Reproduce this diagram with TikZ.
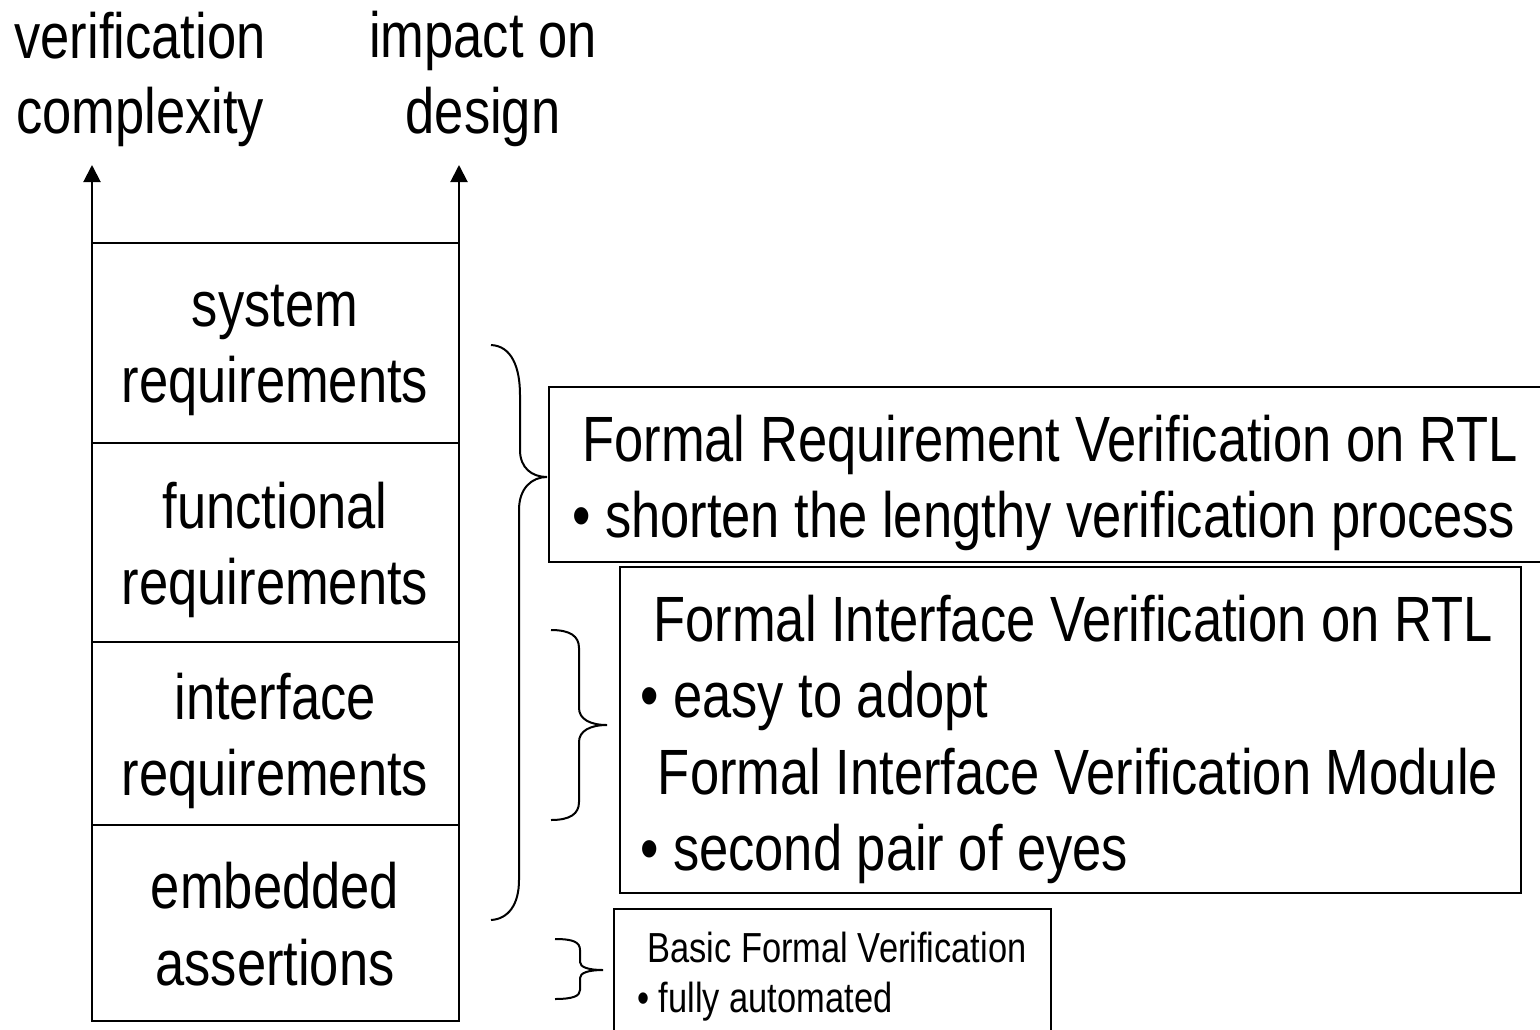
\documentclass[tikz,border=0pt]{standalone}
\usepackage{fontspec}
\setmainfont{Liberation Sans}[FakeStretch=0.82]
\usetikzlibrary{arrows.meta}
\tikzset{
  big/.style={font=\fontsize{64}{77}\selectfont, inner sep=0pt},
  small/.style={font=\fontsize{42}{50}\selectfont, inner sep=0pt},
  frame/.style={draw, line width=2pt, inner sep=0pt, outer sep=0pt, anchor=north west},
  bracepath/.style={line width=2pt},
  axis/.style={line width=2pt, -{Triangle[width=17pt,length=17pt]}},
}
\begin{document}
\begin{tikzpicture}[x=1pt,y=-1pt]
\useasboundingbox (0,0) rectangle (1540,1029);
\fill[white] (0,0) rectangle (1540,1029);
\clip (0,0) rectangle (1540,1029);

% left stack
\node[frame, minimum width=367pt, minimum height=200pt] (s1) at (92,243) {};
\node[frame, minimum width=367pt, minimum height=199pt] (s2) at (92,443) {};
\node[frame, minimum width=367pt, minimum height=183pt] (s3) at (92,642) {};
\node[frame, minimum width=367pt, minimum height=196pt] (s4) at (92,825) {};

% axes
\coordinate (vtop) at (92,165);
\coordinate (itop) at (459,165);
\draw[axis] (s1.north west) -- (vtop);
\draw[axis] (s1.north east) -- (itop);

% axis labels
\node[big, anchor=base] (vc1) at (140,58) {verification};
\node[big, anchor=base] (vc2) at (140,133) {complexity};
\node[big, anchor=base] (id1) at (483,57) {impact on};
\node[big, anchor=base] (id2) at (483,133) {design};

% stack texts
\node[big, anchor=base] (t1a) at (275,326) {system};
\node[big, anchor=base] (t1b) at (275,402) {requirements};
\node[big, anchor=base] (t2a) at (275,528) {functional};
\node[big, anchor=base] (t2b) at (275,604) {requirements};
\node[big, anchor=base] (t3a) at (275,719) {interface};
\node[big, anchor=base] (t3b) at (275,795) {requirements};
\node[big, anchor=base] (t4a) at (275,908) {embedded};
\node[big, anchor=base] (t4b) at (275,985) {assertions};

% right boxes
\node[frame, minimum width=996pt, minimum height=175pt] (b1) at (549,387) {};
\node[frame, minimum width=901pt, minimum height=326pt] (b2) at (620,567) {};
\node[frame, minimum width=437pt, minimum height=140pt] (b3) at (614,909) {};

\node[big, anchor=base] (b1a) at (1050,461) {Formal Requirement Verification on RTL};
\node[big, anchor=base west] (b1b) at (572,537) {• shorten the lengthy verification process};
\node[big, anchor=base] (b2a) at (1073,641) {Formal Interface Verification on RTL};
\node[big, anchor=base west] (b2b) at (640,717) {• easy to adopt};
\node[big, anchor=base] (b2c) at (1078,794) {Formal Interface Verification Module};
\node[big, anchor=base west] (b2d) at (640,870) {• second pair of eyes};
\node[small, anchor=base] (b3a) at (837,962) {Basic Formal Verification};
\node[small, anchor=base west] (b3b) at (637,1012) {• fully automated};

% braces
\draw[bracepath] (491,345) .. controls (512,346) and (520,368) .. (520,395)
  -- (520,450) .. controls (520,468) and (532,477) .. (547,477)
  .. controls (532,477) and (519,488) .. (519,510)
  -- (519,880) .. controls (519,905) and (508,919) .. (491,920);
\draw[bracepath] (551,630) .. controls (570,630) and (579,636) .. (579,648)
  -- (579,708) .. controls (579,719) and (590,725) .. (607,725)
  .. controls (590,725) and (579,731) .. (579,742)
  -- (579,802) .. controls (579,814) and (570,820) .. (551,820);
\draw[bracepath] (555,939) .. controls (573,939) and (580,942) .. (580,950)
  -- (580,962) .. controls (580,967) and (588,970) .. (603,970)
  .. controls (588,970) and (580,973) .. (580,978)
  -- (580,990) .. controls (580,996) and (573,999) .. (555,999);
\end{tikzpicture}
\end{document}
